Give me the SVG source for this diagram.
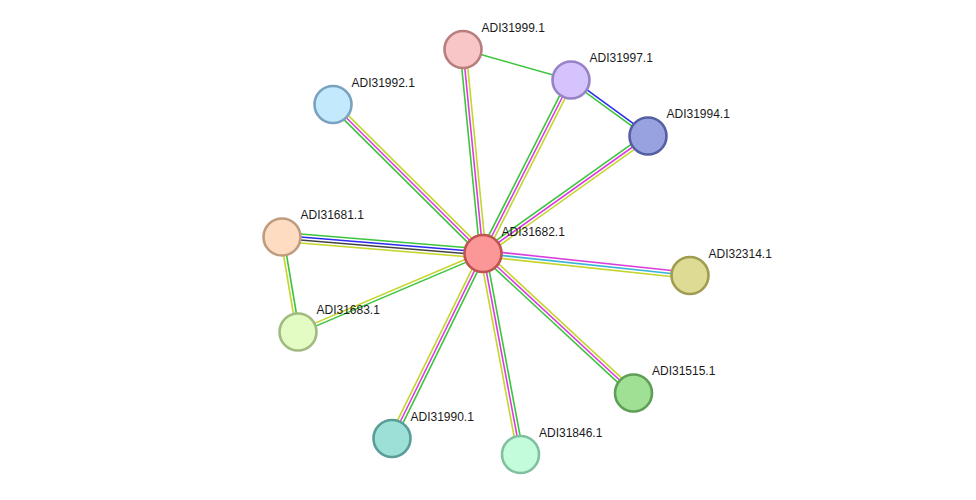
<svg xmlns="http://www.w3.org/2000/svg" width="976" height="500" viewBox="0 0 976 500">
<style>
.e line{stroke-width:1.6;fill:none}
.g{stroke:#3cc43c}.m{stroke:#dc3cdc}.y{stroke:#c4d52c}.b{stroke:#2a2af0}.k{stroke:#444444}.c{stroke:#3ab4d4}
.n circle{stroke-width:2.6}
.n text{font-family:"Liberation Sans",Arial,sans-serif;font-size:12px;fill:#1a1a1a}
</style>
<rect width="976" height="500" fill="#ffffff"/>
<g id="connectors" class="e">
<line class="g" x1="480.01" y1="253.79" x2="460.01" y2="49.79"/>
<line class="m" x1="483" y1="253.5" x2="463" y2="49.5"/>
<line class="y" x1="485.99" y1="253.21" x2="465.99" y2="49.21"/>
<line class="g" x1="480.32" y1="252.14" x2="568.32" y2="78.64"/>
<line class="m" x1="483" y1="253.5" x2="571" y2="80"/>
<line class="y" x1="485.68" y1="254.86" x2="573.68" y2="81.36"/>
<line class="g" x1="481.26" y1="251.06" x2="646.26" y2="133.56"/>
<line class="m" x1="483" y1="253.5" x2="648" y2="136"/>
<line class="y" x1="484.74" y1="255.94" x2="649.74" y2="138.44"/>
<line class="y" x1="485.11" y1="251.37" x2="335.11" y2="102.37"/>
<line class="m" x1="483" y1="253.5" x2="333" y2="104.5"/>
<line class="g" x1="480.89" y1="255.63" x2="330.89" y2="106.63"/>
<line class="g" x1="483.37" y1="249.02" x2="282.37" y2="232.52"/>
<line class="b" x1="483.12" y1="252.01" x2="282.12" y2="235.51"/>
<line class="k" x1="482.88" y1="254.99" x2="281.88" y2="238.49"/>
<line class="y" x1="482.63" y1="257.99" x2="281.63" y2="241.49"/>
<line class="y" x1="482.41" y1="252.12" x2="297.41" y2="330.62"/>
<line class="g" x1="483.59" y1="254.88" x2="298.59" y2="333.38"/>
<line class="m" x1="483.32" y1="250.52" x2="690.32" y2="272.52"/>
<line class="c" x1="483" y1="253.5" x2="690" y2="275.5"/>
<line class="y" x1="482.68" y1="256.48" x2="689.68" y2="278.48"/>
<line class="y" x1="485.04" y1="251.30" x2="635.54" y2="390.80"/>
<line class="m" x1="483" y1="253.5" x2="633.5" y2="393"/>
<line class="g" x1="480.96" y1="255.70" x2="631.46" y2="395.20"/>
<line class="y" x1="480.31" y1="252.18" x2="389.31" y2="437.18"/>
<line class="m" x1="483" y1="253.5" x2="392" y2="438.5"/>
<line class="g" x1="485.69" y1="254.82" x2="394.69" y2="439.82"/>
<line class="y" x1="480.05" y1="254.05" x2="517.55" y2="455.05"/>
<line class="m" x1="483" y1="253.5" x2="520.5" y2="454.5"/>
<line class="g" x1="485.95" y1="252.95" x2="523.45" y2="453.95"/>
<line class="y" x1="280.52" y1="237.25" x2="296.52" y2="332.25"/>
<line class="g" x1="283.48" y1="236.75" x2="299.48" y2="331.75"/>
<line class="g" x1="463" y1="49.5" x2="571" y2="80"/>
<line class="b" x1="571.88" y1="78.79" x2="648.88" y2="134.79"/>
<line class="g" x1="570.12" y1="81.21" x2="647.12" y2="137.21"/>
</g>
<g id="ADI31999.1" class="n"><circle cx="463" cy="49.5" r="18.5" fill="#f8c6c6" stroke="#b87e7e"/><text x="481.5" y="31.5">ADI31999.1</text></g>
<g id="ADI31997.1" class="n"><circle cx="571" cy="80" r="18.5" fill="#d4c3fc" stroke="#9882c6"/><text x="589.5" y="62">ADI31997.1</text></g>
<g id="ADI31994.1" class="n"><circle cx="648" cy="136" r="18.5" fill="#99a2e1" stroke="#5560a2"/><text x="666.5" y="118">ADI31994.1</text></g>
<g id="ADI31992.1" class="n"><circle cx="333" cy="104.5" r="18.5" fill="#c3e9fc" stroke="#7aa1bd"/><text x="351.5" y="86.5">ADI31992.1</text></g>
<g id="ADI31681.1" class="n"><circle cx="282" cy="237" r="18.5" fill="#fddcc1" stroke="#bf9c80"/><text x="300.5" y="219">ADI31681.1</text></g>
<g id="ADI31683.1" class="n"><circle cx="298" cy="332" r="18.5" fill="#e2fcc4" stroke="#a1ba80"/><text x="316.5" y="314">ADI31683.1</text></g>
<g id="ADI32314.1" class="n"><circle cx="690" cy="275.5" r="18.5" fill="#dedb94" stroke="#9f9c50"/><text x="708.5" y="257.5">ADI32314.1</text></g>
<g id="ADI31515.1" class="n"><circle cx="633.5" cy="393" r="18.5" fill="#a0e095" stroke="#5e9e56"/><text x="652" y="375">ADI31515.1</text></g>
<g id="ADI31990.1" class="n"><circle cx="392" cy="438.5" r="18.5" fill="#9ce0d8" stroke="#5a9c96"/><text x="410.5" y="420.5">ADI31990.1</text></g>
<g id="ADI31846.1" class="n"><circle cx="520.5" cy="454.5" r="18.5" fill="#c3fcdb" stroke="#80c0a0"/><text x="539" y="436.5">ADI31846.1</text></g>
<g id="ADI31682.1" class="n"><circle cx="483" cy="253.5" r="18.5" fill="#fb9797" stroke="#bf5350"/><text x="501.5" y="235.5">ADI31682.1</text></g>
</svg>
